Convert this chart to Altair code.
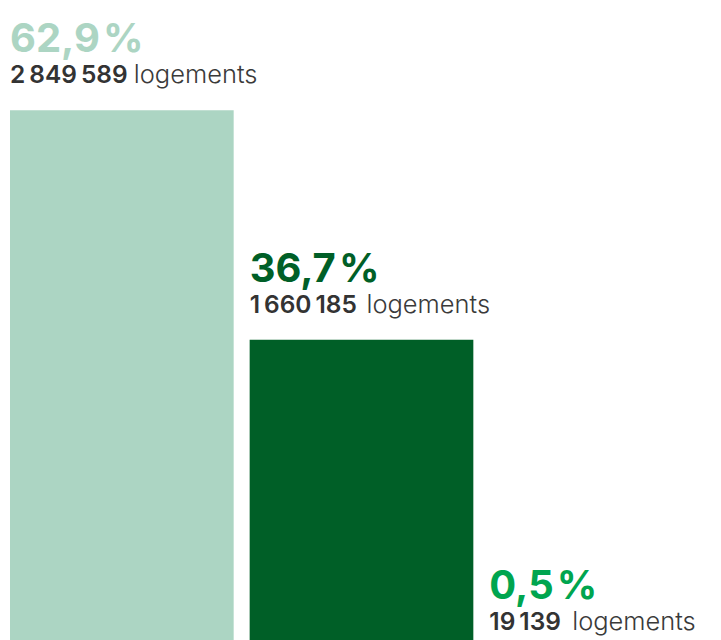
import altair as alt
import pandas as pd

categories = ["A", "B", "C"]
percents = [62.9, 36.7, 0.5]
percent_labels = ["62,9\u200a%", "36,7\u200a%", "0,5\u200a%"]
count_labels = ["2\u202f849\u202f589", "1\u202f660\u202f185", "19\u202f139"]
colors = ["#acd5c3", "#005f27", "#00a54f"]

df = pd.DataFrame({
    "cat": categories,
    "pct": percents,
    "plabel": percent_labels,
    "clabel": count_labels,
})

FONT = "Inter"
x = alt.X("cat:N", axis=None, sort=categories,
          scale=alt.Scale(paddingInner=0.0667, paddingOuter=0))
xl = alt.X("cat:N", axis=None, sort=categories, bandPosition=0,
           scale=alt.Scale(paddingInner=0.0667, paddingOuter=0))
y = alt.Y("pct:Q", axis=None, scale=alt.Scale(domain=[0, 74.5]))
color = alt.Color("cat:N", legend=None,
                  scale=alt.Scale(domain=categories, range=colors))

base = alt.Chart(df)
bars = base.mark_bar().encode(x=x, y=y, color=color)
pct_text = base.mark_text(align="left", baseline="alphabetic", dy=-58,
                          font=FONT, fontSize=40, fontWeight="bold").encode(
    x=xl, y=y, text="plabel:N", color=color)
cnt_text = base.mark_text(align="left", baseline="alphabetic", dy=-27,
                          font=FONT, fontSize=24.5, fontWeight=600,
                          color="#333333").encode(x=xl, y=y, text="clabel:N")

layers = [bars, pct_text, cnt_text]
offsets = [124, 117, 83]
for c, off in zip(categories, offsets):
    layers.append(
        base.transform_filter(alt.datum.cat == c).mark_text(
            align="left", baseline="alphabetic", dy=-27, dx=off,
            font=FONT, fontSize=25.5, fontWeight=300, color="#3a3a3a",
        ).encode(x=xl, y=y, text=alt.value("logements"))
    )

chart = alt.layer(*layers).properties(
    width=704, height=654,
    padding={"left": 2, "top": 0, "right": 0, "bottom": 0},
    autosize=alt.AutoSizeParams(type="none"),
).configure_view(stroke=None)

chart.save("out.html", embed_options={"renderer": "svg", "actions": False})
